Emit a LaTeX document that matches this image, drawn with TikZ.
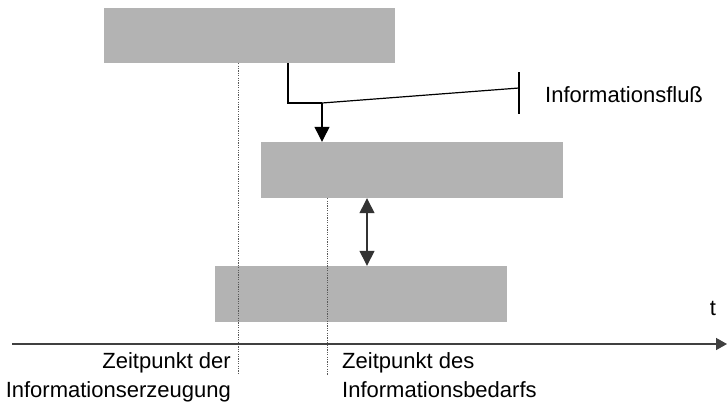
\documentclass[tikz,border=0pt]{standalone}
\usepackage{fontspec}
\setmainfont{Liberation Sans}
\usetikzlibrary{arrows.meta}
\definecolor{barfill}{RGB}{179,179,179}
\definecolor{axisgray}{RGB}{64,64,64}
\tikzset{
  bighead/.tip={Triangle[length=15pt,width=15pt]},
  axishead/.tip={Triangle[length=11pt,width=12pt]}
}
\begin{document}
\begin{tikzpicture}[x=1pt,y=-1pt,
  phase/.style={fill=barfill,draw=none,inner sep=0pt},
  flow/.style={line width=1.2pt,black},
  marker/.style={gray!70!black,line width=0.9pt,dash pattern=on 1.2pt off 1.2pt},
  label/.style={font=\fontsize{22}{29}\selectfont,inner sep=0pt}
]
\useasboundingbox (0,0) rectangle (727,405);

% activity bars
\node[phase,minimum width=291pt,minimum height=55pt] (top) at (249.5,35.5) {};
\node[phase,minimum width=302pt,minimum height=56pt] (mid) at (412,170) {};
\node[phase,minimum width=292pt,minimum height=56pt] (bot) at (361,294) {};

% time markers
\coordinate (m1) at (238,375);
\coordinate (m2) at (327,375);
\draw[marker] (top.south -| m1) -- (m1);
\draw[marker] (mid.south -| m2) -- (m2);

% information flow
\coordinate (bend) at (288,103);
\coordinate (junc) at (322,103);
\coordinate (flowend) at (519,88);
\coordinate (bartop) at (519,72);
\coordinate (barbot) at (519,114);
\draw[flow] (top.south -| bend) |- (junc);
\draw[flow,-bighead] (junc) -- (mid.north -| junc);
\draw[flow] (junc) -- (flowend);
\draw[flow] (bartop) -- (barbot);
\node[label,anchor=base west] (fluss) at (545,102) {Informationsfluß};

% gap between the two lower bars
\coordinate (gap) at (367,0);
\draw[line width=1.4pt,black!80,bighead-bighead] (mid.south -| gap) -- (bot.north -| gap);

% time axis
\coordinate (axstart) at (12,344);
\coordinate (axend) at (727,344);
\draw[line width=1.5pt,axisgray,-axishead] (axstart) -- (axend);
\node[label,anchor=base] (t) at (713,315) {t};

% labels below the axis
\node[label,anchor=north east,align=right] (lblgen) at (231,352)
  {Zeitpunkt der\hspace{5pt}\\Informationserzeugung};
\node[label,anchor=north west,align=left] (lblneed) at (342,352)
  {Zeitpunkt des\\Informationsbedarfs};
\end{tikzpicture}
\end{document}
